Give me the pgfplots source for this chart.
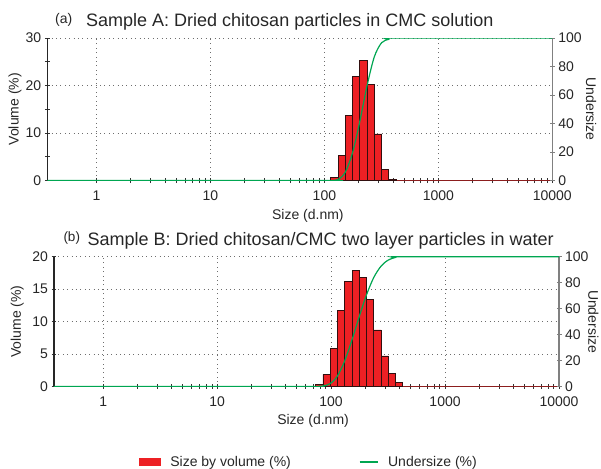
\documentclass[border=0pt]{standalone}
\usepackage{fontspec}
\setmainfont{Liberation Sans}
\usepackage{pgfplots}
\pgfplotsset{compat=1.18}

\definecolor{barred}{RGB}{237,32,36}
\definecolor{baredge}{RGB}{50,15,15}
\definecolor{ugreen}{RGB}{0,166,81}
\definecolor{zred}{RGB}{140,30,30}
\definecolor{gridgray}{RGB}{110,110,110}

\pgfplotsset{
  mybase/.style={
    scale only axis, width=505bp,
    xmin=0.37, xmax=10000,
    enlargelimits=false,
    /pgf/number format/assume math mode=true,
    tick label style={font=\fontsize{14bp}{16bp}\selectfont, text=black!85},
    label style={font=\fontsize{14bp}{16bp}\selectfont, text=black!85},
    tick align=center, major tick length=5bp, minor tick length=5bp,
    tick style={black!80, line width=0.8bp},
  },
  volaxis/.style={
    axis x line*=bottom, axis y line*=left,
    x axis line style={zred, line width=1.1bp},
    y axis line style={black!85, line width=1.2bp},
    xtick={1,10,100,1000,10000}, xticklabels={1,10,100,1000,10000},
    xticklabel style={yshift=-4.5bp},
    minor xtick={2,3,4,5,6,7,8,9,20,30,40,50,60,70,80,90,200,300,400,500,600,700,800,900,2000,3000,4000,5000,6000,7000,8000,9000},
    grid=major,
    major grid style={gridgray, line width=0.8bp, dash pattern=on 0.8bp off 3.6bp},
    xlabel={Size (d.nm)}, ylabel={Volume (\%)},
  },
  undaxis/.style={
    hide x axis, axis y line*=right,
    ymin=0, ymax=100, ytick={0,20,40,60,80,100},
    y axis line style={gray, line width=1.5bp},
    ytick style={gray, line width=1bp},
    ylabel={Undersize},
  },
}

\begin{document}
\begin{tikzpicture}
\useasboundingbox (0bp,0bp) rectangle (601bp,-469bp);

% ---------- titles ----------
\node[anchor=base west, inner sep=0pt, font=\fontsize{14bp}{16bp}\selectfont, text=black!85] at (55bp,-23bp) {(a)};
\node[anchor=base west, inner sep=0pt, font=\fontsize{18bp}{20bp}\selectfont, text=black!85] at (86bp,-26.7bp) {Sample A: Dried chitosan particles in CMC solution};
\node[anchor=base west, inner sep=0pt, font=\fontsize{13.5bp}{16bp}\selectfont, text=black!85] at (63.3bp,-241bp) {(b)};
\node[anchor=base west, inner sep=0pt, font=\fontsize{18bp}{20bp}\selectfont, text=black!85] at (87.3bp,-245.7bp) {Sample B: Dried chitosan/CMC two layer particles in water};

% ---------- Panel A ----------
\begin{axis}[xmode=log, mybase, volaxis, at={(47.3bp,-180.5bp)}, anchor=south west, height=142.5bp,
  ymin=0, ymax=30, ytick={0,10,20,30}, minor ytick={5,15,25},
  ylabel style={at={(axis description cs:-0.064,0.5)}, anchor=center},
  xlabel style={at={(axis description cs:0.516,-0.245)}, anchor=center},
]
\addplot[ybar interval, fill=barred, draw=baredge, line width=0.8bp] coordinates {
 (113.7,0.7) (131.7,5.2) (152.6,13.7) (176.7,21.9) (204.6,25.2)
 (237.0,20.2) (274.4,9.8) (317.8,2.4) (368.1,0.3) (426.3,0)
};
\end{axis}
\begin{axis}[xmode=log, mybase, undaxis, at={(47.3bp,-180.5bp)}, anchor=south west, height=142.5bp,
  ylabel style={at={(axis description cs:1.077,0.5)}, anchor=center, rotate=180},
]
\addplot[ugreen, line width=1.2bp, smooth, tension=0.5] coordinates {
 (0.37,0) (100,0) (113.7,0) (131.7,0.7) (152.6,5.9) (176.7,19.6) (204.6,41.5)
 (237.0,66.7) (274.4,86.9) (317.8,96.7) (368.1,99.1) (426.3,100) (10000,100)
};
\end{axis}

% ---------- Panel B ----------
\begin{axis}[xmode=log, mybase, volaxis, at={(54bp,-386.4bp)}, anchor=south west, height=129.7bp,
  ymin=0, ymax=20, ytick={0,5,10,15,20},
  ylabel style={at={(axis description cs:-0.073,0.5)}, anchor=center},
  xlabel style={at={(axis description cs:0.513,-0.262)}, anchor=center},
  legend style={at={(axis description cs:0.167,-0.583)}, anchor=west,
    draw=none, fill=none, inner sep=0pt,
    font=\fontsize{14bp}{16bp}\selectfont, text=black!85,
    /tikz/every odd column/.append style={column sep=8bp},
    /tikz/every even column/.append style={column sep=66bp}},
  legend columns=2,
]
\addplot[ybar interval, fill=barred, draw=baredge, line width=0.8bp,
  legend image code/.code={\fill[barred] (0bp,-3.5bp) rectangle (21bp,3.5bp);}] coordinates {
 (73.24,0.3) (84.82,1.85) (98.23,5.9) (113.7,11.7) (131.7,16.2) (152.6,17.9)
 (176.7,16.8) (204.6,13.4) (237.0,8.7) (274.4,4.7) (317.8,2.0) (368.1,0.6) (426.3,0)
};
\addlegendentry{Size by volume (\%)}
\addlegendimage{legend image code/.code={\draw[ugreen,line width=1.2bp] (0bp,0bp) -- (18bp,0bp);}}
\addlegendentry{Undersize (\%)}
\end{axis}
\begin{axis}[xmode=log, mybase, undaxis, at={(54bp,-386.4bp)}, anchor=south west, height=129.7bp,
  ylabel style={at={(axis description cs:1.068,0.5)}, anchor=center, rotate=180},
]
\addplot[ugreen, line width=1.2bp, smooth, tension=0.5] coordinates {
 (0.37,0) (60,0) (73.24,0) (84.82,0.3) (98.23,2.15) (113.7,8.05) (131.7,19.75)
 (152.6,35.95) (176.7,53.85) (204.6,70.65) (237.0,84.05) (274.4,92.75)
 (317.8,97.45) (368.1,99.45) (426.3,100) (10000,100)
};
\end{axis}
\end{tikzpicture}
\end{document}
